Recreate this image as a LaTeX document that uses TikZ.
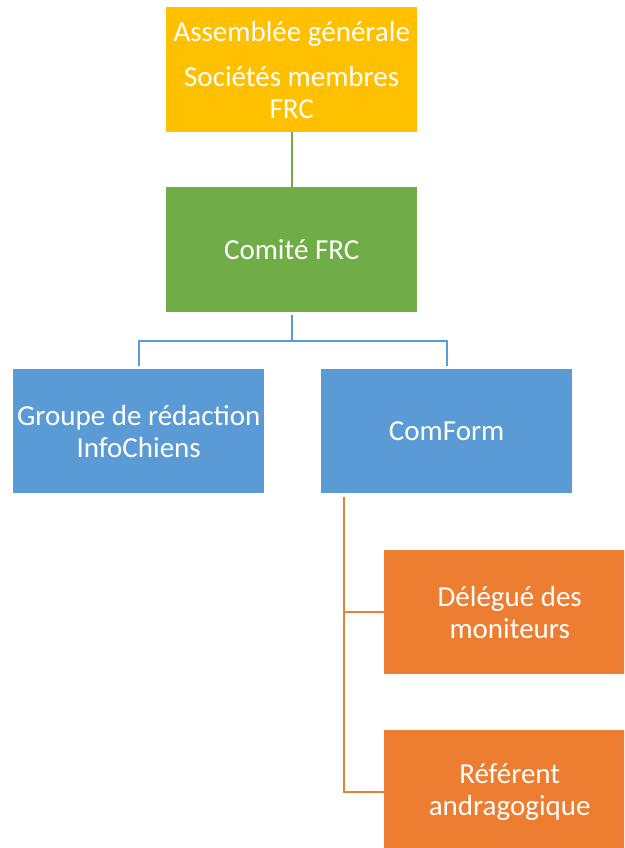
\documentclass[tikz,border=0pt]{standalone}
\usepackage{fontspec}
\setmainfont{Carlito}
\definecolor{cyellow}{HTML}{FFC000}
\definecolor{cgreen}{HTML}{70AD47}
\definecolor{cblue}{HTML}{5B9BD5}
\definecolor{corange}{HTML}{ED7D31}
\begin{document}
\begin{tikzpicture}[x=1pt,y=-1pt,
  box/.style={draw=none, minimum width=251pt, minimum height=125pt, inner sep=0pt,
    text=white, align=center, font=\fontsize{29}{32}\selectfont, anchor=north west},
  conn/.style={line width=2pt}]
\useasboundingbox (0,0) rectangle (624,848);
\clip (0,0) rectangle (624,848);
\node[box, fill=cyellow] (ag) at (166,7) {Assemblée générale\\[13pt]Sociétés membres\\FRC};
\node[box, fill=cgreen] (comite) at (166,187) {Comité FRC};
\node[box, fill=cblue, minimum height=124pt] (groupe) at (13,369) {Groupe de rédaction\\InfoChiens};
\node[box, fill=cblue, minimum height=124pt] (comform) at (321,369) {ComForm};
\node[box, fill=corange, minimum height=124pt] (delegue) at (384,550) {Délégué des\\moniteurs};
\node[box, fill=corange, minimum height=124pt] (referent) at (384,730) {Référent\\andragogique};
\draw[conn, cgreen] (ag.south) -- (comite.north);
\coordinate (bar) at ([yshift=-29pt]comite.south);
\draw[conn, cblue] ([yshift=-3pt]comite.south) -- (bar);
\draw[conn, cblue] (bar) -| ([yshift=3pt]groupe.north);
\draw[conn, cblue] (bar) -| ([yshift=3pt]comform.north);
\coordinate (otop) at ([xshift=23pt,yshift=-4pt]comform.south west);
\draw[conn, corange] (otop) |- (referent.west);
\draw[conn, corange] (otop |- delegue.west) -- (delegue.west);
\end{tikzpicture}
\end{document}
